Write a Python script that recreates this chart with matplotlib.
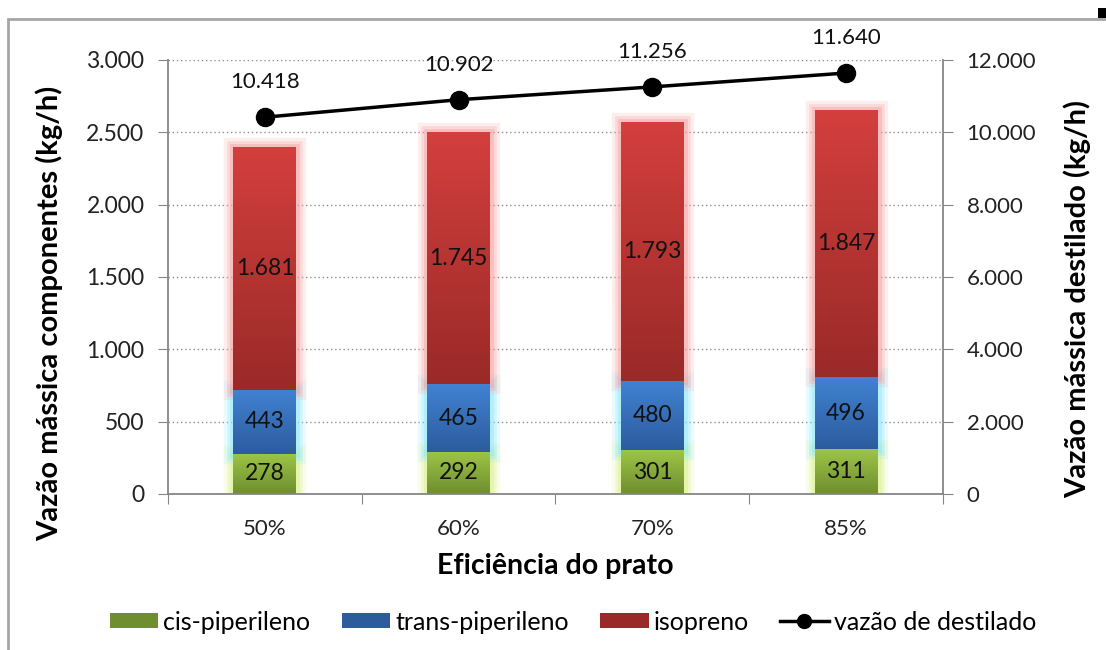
import numpy as np
import matplotlib
matplotlib.use("Agg")
import matplotlib.pyplot as plt
import matplotlib.patheffects as pe
from matplotlib.colors import LinearSegmentedColormap
from matplotlib.lines import Line2D
from matplotlib.patches import Patch, Rectangle

plt.rcParams['font.family'] = ['Lato', 'DejaVu Sans']

categorias = ["50%", "60%", "70%", "85%"]
cis = [278, 292, 301, 311]
trans = [443, 465, 480, 496]
isopreno = [1681, 1745, 1793, 1847]
destilado = [10418, 10902, 11256, 11640]


def fmt(v):
    return f"{v:,.0f}".replace(",", ".")


# (name, values, top colour, bottom colour, glow colour)
series = [
    ("cis-piperileno", cis, "#9dc546", "#6f8e30", "#d9f28a"),
    ("trans-piperileno", trans, "#4182d2", "#2c5c9e", "#8ee9ff"),
    ("isopreno", isopreno, "#d33f3d", "#9a2a28", "#f7a3a3"),
]

fig = plt.figure(figsize=(11.06, 6.5), dpi=100)
ax = fig.add_axes([0.1519, 0.24, 0.7007, 0.6677])

x = np.arange(len(categorias))
width = 0.325
bottom = np.zeros(len(categorias))
for nome, vals, c_top, c_bot, glow in series:
    bars = ax.bar(x, vals, width, bottom=bottom, facecolor="none",
                  edgecolor="none", zorder=2)
    cmap = LinearSegmentedColormap.from_list(nome, [c_bot, c_top])
    grad = np.linspace(0, 1, 64).reshape(-1, 1)
    for b in bars:
        b.set_path_effects([
            pe.Stroke(linewidth=14, foreground=glow, alpha=0.18),
            pe.Stroke(linewidth=9, foreground=glow, alpha=0.3),
            pe.Stroke(linewidth=5, foreground=glow, alpha=0.45),
            pe.Normal(),
        ])
        x0, y0 = b.get_x(), b.get_y()
        im = ax.imshow(grad, extent=[x0, x0 + b.get_width(), y0, y0 + b.get_height()],
                       origin="lower", aspect="auto", cmap=cmap, zorder=2.5)
        im.set_clip_path(b)
    ax.bar_label(bars, labels=[fmt(v) for v in vals], label_type="center",
                 fontsize=16.5, color="#111111", zorder=4)
    bottom += np.array(vals)

ax.set_xlim(-0.5, len(categorias) - 0.5)
ax.set_ylim(0, 3000)
ax.set_yticks(np.arange(0, 3001, 500))
ax.yaxis.set_major_formatter(lambda v, p: fmt(v))
ax.set_xticks(np.arange(-0.5, len(categorias), 1.0))
ax.set_xticklabels([])
ax.set_xticks(x, categorias, minor=True)
ax.tick_params(axis="x", which="minor", length=0, pad=18, labelsize=16, labelcolor="#222222")
ax.tick_params(axis="x", which="major", length=7, color="#868686", direction="out")
ax.tick_params(axis="y", length=7, color="#868686", labelsize=16.5, labelcolor="#222222", pad=10)
ax.grid(axis="y", color="#8c8c8c", linestyle=(0, (1, 2)), linewidth=1, zorder=0)
ax.set_axisbelow(True)
for s in ["left", "bottom"]:
    ax.spines[s].set_color("#868686")
    ax.spines[s].set_linewidth(1.3)
ax.spines["top"].set_visible(False)
ax.spines["right"].set_visible(False)
ax.set_ylabel("Vazão mássica componentes (kg/h)", fontsize=21, fontweight="bold")
ax.yaxis.set_label_coords(-0.135, 0.417)
ax.set_xlabel("Eficiência do prato", fontsize=20.5, fontweight="bold", labelpad=10)

ax2 = ax.twinx()
ax2.plot(x, destilado, color="black", linewidth=2.5, marker="o", markersize=13, zorder=5)
for xi, v in zip(x, destilado):
    ax2.annotate(fmt(v), (xi, v), xytext=(0, 18), textcoords="offset points",
                 ha="center", va="bottom", fontsize=16, color="#111111")
ax2.set_ylim(0, 12000)
ax2.set_yticks(np.arange(0, 12001, 2000))
ax2.yaxis.set_major_formatter(lambda v, p: fmt(v))
ax2.tick_params(axis="y", length=7, color="#868686", labelsize=16, labelcolor="#222222", pad=10)
ax2.spines["right"].set_color("#868686")
ax2.spines["right"].set_linewidth(1.3)
for s in ["top", "left", "bottom"]:
    ax2.spines[s].set_visible(False)
ax2.set_ylabel("Vazão mássica destilado (kg/h)", fontsize=21, fontweight="bold")
ax2.yaxis.set_label_coords(1.155, 0.449)

handles = [Patch(facecolor=s[3], edgecolor="none") for s in series]
handles.append(Line2D([], [], color="black", linewidth=2.5, marker="o", markersize=10))
labels = [s[0] for s in series] + ["vazão de destilado"]
fig.legend(handles, labels, loc="center", bbox_to_anchor=(0.518, 0.043), ncol=4,
           frameon=False, fontsize=18, handlelength=1.94, handleheight=0.57,
           handletextpad=0.2, columnspacing=1.25)

# chart frame
fig.add_artist(Rectangle((0.0072, -0.1), 1.2, 0.1 + 0.9708, transform=fig.transFigure,
                         fill=False, edgecolor="#a6a6a6", linewidth=2))
fig.add_artist(Rectangle((0.993, 0.972), 0.01, 0.016, transform=fig.transFigure,
                         facecolor="black", edgecolor="none"))

fig.savefig("out.png", dpi=100)
